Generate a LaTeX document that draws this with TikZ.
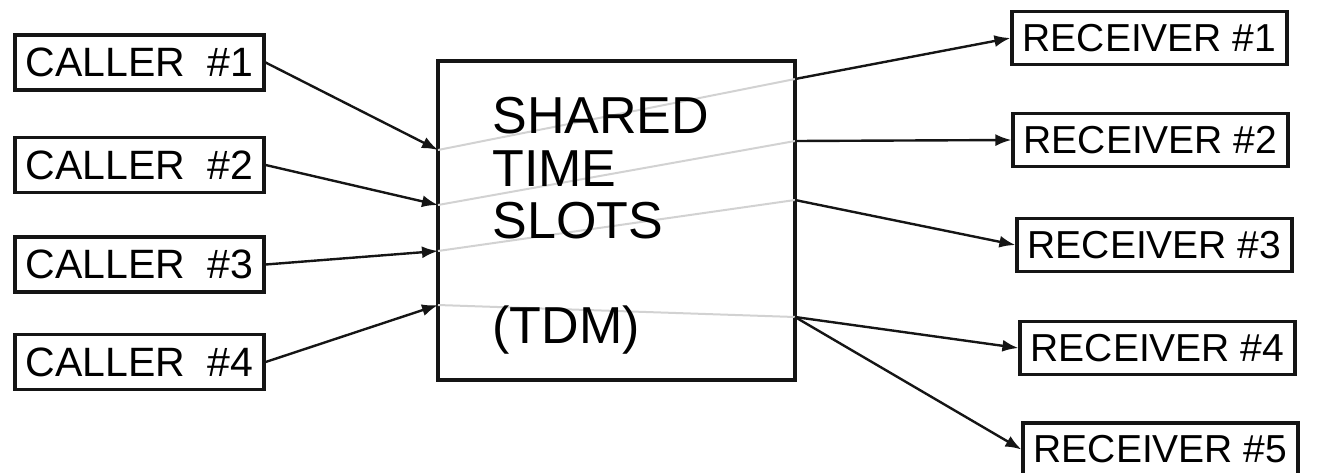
\documentclass[tikz,border=0pt]{standalone}
\usepackage{fontspec}
\setmainfont{Liberation Sans}
\usetikzlibrary{arrows.meta}
\definecolor{edgec}{HTML}{151515}
\definecolor{slotc}{HTML}{D2D2D2}

\begin{document}
\begin{tikzpicture}[x=0.5pt, y=-0.5pt,
    callerbox/.style={draw=edgec, line width=1.6pt, inner sep=0pt, minimum width=124.5pt, minimum height=27.5pt, font=\fontsize{20.5}{24}\selectfont},
    receiverbox/.style={draw=edgec, line width=1.6pt, inner sep=0pt, minimum width=137.5pt, minimum height=26.5pt, font=\fontsize{19.5}{23}\selectfont},
    sharedbox/.style={draw=edgec, line width=1.6pt, minimum width=178.5pt, minimum height=159.5pt},
    slotline/.style={slotc, line width=1pt},
    feed/.style={-{Latex[length=8pt,width=6pt]}, line width=1.2pt, edgec}]
    \useasboundingbox (0,0) rectangle (1321,472);
    \node[sharedbox] (tdm) at (616.5,220.5) {};
    \node[callerbox] (c1) at (139.5,62.5) {CALLER\ \ \#1};
    \node[callerbox] (c2) at (139.5,165) {CALLER\ \ \#2};
    \node[callerbox] (c3) at (139.5,264.5) {CALLER\ \ \#3};
    \node[callerbox] (c4) at (139.5,362) {CALLER\ \ \#4};
    \node[receiverbox] (r1) at (1149.5,38) {RECEIVER \#1};
    \node[receiverbox] (r2) at (1150.5,140) {RECEIVER \#2};
    \node[receiverbox] (r3) at (1154.5,245) {RECEIVER \#3};
    \node[receiverbox] (r4) at (1157.5,348) {RECEIVER \#4};
    \node[receiverbox] (r5) at (1160.5,449.5) {RECEIVER \#5};
    \coordinate (in1) at (438,150);
    \coordinate (in2) at (438,205);
    \coordinate (in3) at (438,251);
    \coordinate (in4) at (438,305);
    \coordinate (out1) at (795,79);
    \coordinate (out2) at (795,141);
    \coordinate (out3) at (795,200);
    \coordinate (out4) at (795,317);
    \draw[slotline] (in1) -- (out1);
    \draw[slotline] (in2) -- (out2);
    \draw[slotline] (in3) -- (out3);
    \draw[slotline] (in4) -- (out4);
    \node[anchor=north west, inner sep=0pt, align=left, font=\fontsize{26}{26.3}\selectfont] (slots) at (492,97) {SHARED\\TIME\\SLOTS\\[26pt](TDM)};
    \draw[feed] (c1.east) -- (in1);
    \draw[feed] (c2.east) -- (in2);
    \draw[feed] (c3.east) -- (in3);
    \draw[feed] (c4.east) -- (in4);
    \draw[feed] (out1) -- (r1.west);
    \draw[feed] (out2) -- (r2.west);
    \draw[feed] (out3) -- (r3.west);
    \draw[feed] (out4) -- (r4.west);
    \draw[feed] (out4) -- (r5.west);
\end{tikzpicture}
\end{document}
